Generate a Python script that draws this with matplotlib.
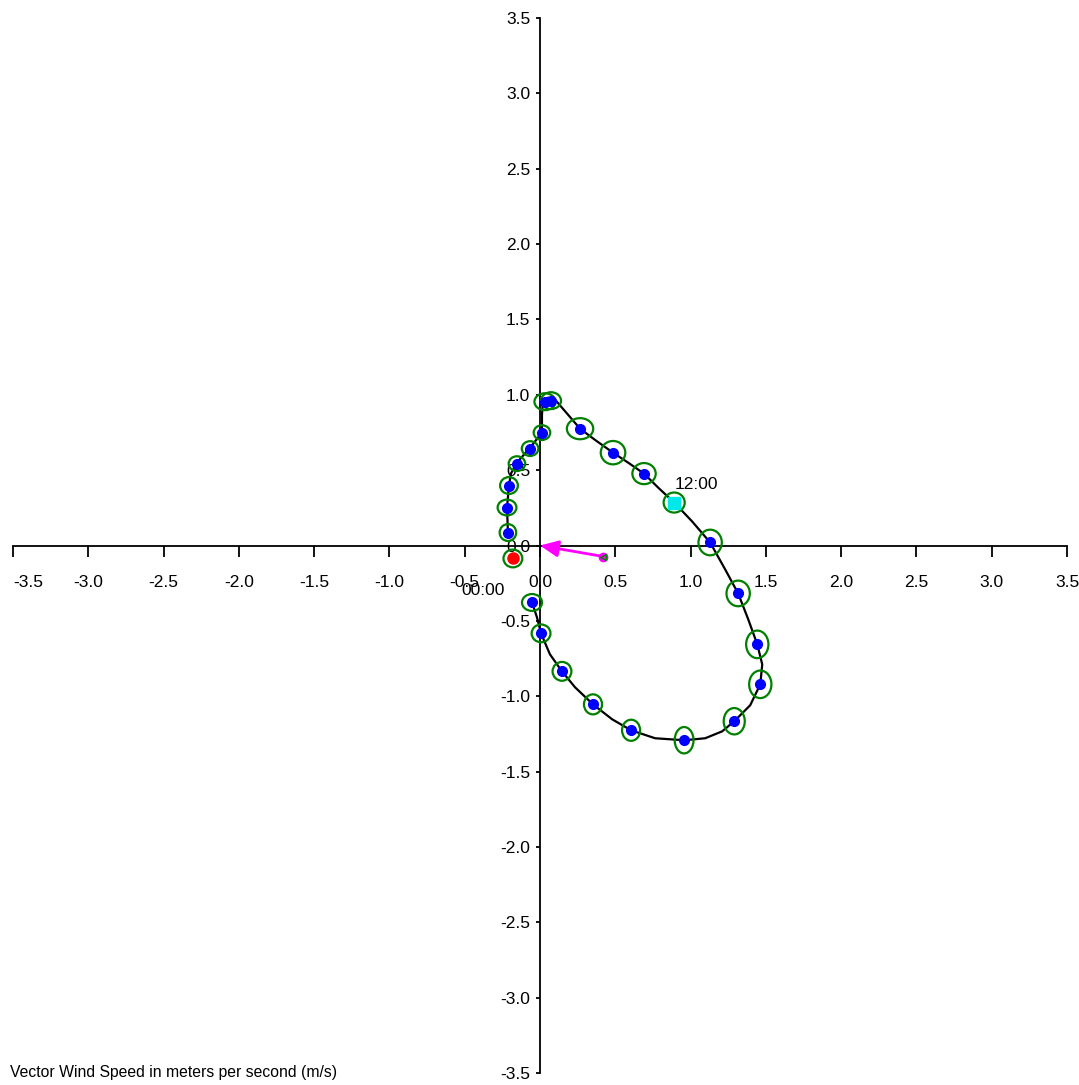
import numpy as np
import matplotlib.pyplot as plt
from matplotlib.patches import Ellipse

plt.rcParams['font.family'] = ['Liberation Sans', 'DejaVu Sans']

# hourly mean wind vectors (u, v) in m/s, 00:00 .. 23:00
hours = ["%02d:00" % h for h in range(24)]
u = [-0.180, -0.053, 0.007, 0.146, 0.352, 0.605, 0.957, 1.290, 1.463, 1.443,
     1.316, 1.130, 0.891, 0.691, 0.485, 0.266, 0.073, 0.033, 0.013, -0.066,
     -0.153, -0.206, -0.219, -0.213]
v = [-0.086, -0.378, -0.583, -0.835, -1.054, -1.226, -1.292, -1.166, -0.921, -0.656,
     -0.318, 0.020, 0.285, 0.477, 0.616, 0.775, 0.961, 0.954, 0.749, 0.643,
     0.543, 0.398, 0.252, 0.086]

# spread of each hour (ellipse width / height, m/s)
spread_w = [0.125, 0.133, 0.125, 0.125, 0.120, 0.120, 0.125, 0.140, 0.148, 0.148,
            0.155, 0.155, 0.140, 0.155, 0.163, 0.175, 0.133, 0.140, 0.110, 0.110,
            0.110, 0.118, 0.125, 0.110]
spread_h = [0.118, 0.112, 0.118, 0.125, 0.133, 0.140, 0.175, 0.175, 0.183, 0.183,
            0.170, 0.170, 0.133, 0.140, 0.155, 0.140, 0.112, 0.112, 0.098, 0.098,
            0.098, 0.112, 0.105, 0.112]

# finer hodograph trace (01:00 -> 23:00)
trace_u = [-0.053, -0.020, 0.007, 0.066, 0.146, 0.233, 0.352, 0.479, 0.605, 0.765,
           0.957, 1.097, 1.210, 1.290, 1.396, 1.463, 1.476, 1.443, 1.383, 1.316,
           1.230, 1.130, 1.011, 0.891, 0.785, 0.691, 0.585, 0.485, 0.372, 0.266,
           0.180, 0.100, 0.053, 0.020, 0.013, 0.013, -0.066, -0.153, -0.193, -0.206,
           -0.219, -0.213]
trace_v = [-0.378, -0.477, -0.583, -0.722, -0.835, -0.941, -1.054, -1.153, -1.226, -1.279,
           -1.292, -1.279, -1.233, -1.166, -1.060, -0.921, -0.789, -0.656, -0.490, -0.318,
           -0.159, 0.020, 0.159, 0.285, 0.384, 0.477, 0.550, 0.616, 0.696, 0.775,
           0.875, 0.968, 0.981, 0.961, 0.868, 0.749, 0.649, 0.550, 0.477, 0.398,
           0.252, 0.086]

# resultant daily vector
mean_u, mean_v = 0.42, -0.073

ticks = [-3.5, -3.0, -2.5, -2.0, -1.5, -1.0, -0.5, 0.0, 0.5, 1.0, 1.5, 2.0, 2.5, 3.0, 3.5]
tick_labels = ["%.1f" % t for t in ticks]

fig = plt.figure(figsize=(10.79, 10.85), dpi=100)
ax = fig.add_axes([13 / 1079, 12 / 1085, 1054 / 1079, 1055 / 1085])
ax.set_xlim(-3.5, 3.5)
ax.set_ylim(-3.5, 3.5)

for s in ['top', 'right']:
    ax.spines[s].set_visible(False)
ax.spines['left'].set_position(('data', 0))
ax.spines['bottom'].set_position(('data', 0))
for s in ['left', 'bottom']:
    ax.spines[s].set_linewidth(1.3)

ax.set_xticks(ticks)
ax.set_xticklabels(tick_labels)
ax.set_yticks(ticks)
ax.set_yticklabels(tick_labels)
ax.tick_params(axis='x', direction='out', length=8, width=1.3, pad=13, labelsize=12.5)
ax.tick_params(axis='y', direction='out', length=3, width=1.3, pad=4, labelsize=12.5)
ax.get_xticklabels()[0].set_horizontalalignment('left')

# hodograph line
ax.plot(trace_u, trace_v, color='black', lw=1.6, zorder=3)

# spread ellipses
for i in range(24):
    ax.add_patch(Ellipse((u[i], v[i]), spread_w[i], spread_h[i], fill=False,
                         edgecolor='green', lw=1.6, zorder=4))

# hourly points
ax.plot(u[1:], v[1:], 'o', color='#0000ff', ms=7, mec='#0000ff', zorder=5)
ax.plot(u[0], v[0], 'o', color='#ff0000', ms=8, zorder=6)
ax.plot(u[12], v[12], 's', color='#00e8e8', ms=8, zorder=6)
ax.text(u[0] - 0.2, v[0] - 0.212, hours[0], fontsize=12.5, ha='center', va='center', zorder=7)
ax.text(u[12] + 0.004, v[12] + 0.07, hours[12], fontsize=12.5, ha='left', va='bottom', zorder=7)

# resultant vector arrow
ax.annotate('', xy=(0, 0), xytext=(mean_u, mean_v),
            arrowprops=dict(arrowstyle='-|>,head_length=0.55,head_width=0.25',
                            color='#ff00ff', lw=2, mutation_scale=20,
                            shrinkA=0, shrinkB=0), zorder=6)
ax.plot(mean_u, mean_v, 'o', color='#ff00ff', ms=6, zorder=7)
ax.plot(mean_u, mean_v, '<', color='none', mec='green', ms=4, mew=1, zorder=8)

fig.text(10 / 1079, 13 / 1085, "Vector Wind Speed in meters per second (m/s)",
         fontsize=11.3, ha='left', va='center')

fig.savefig('out.png', dpi=100)
